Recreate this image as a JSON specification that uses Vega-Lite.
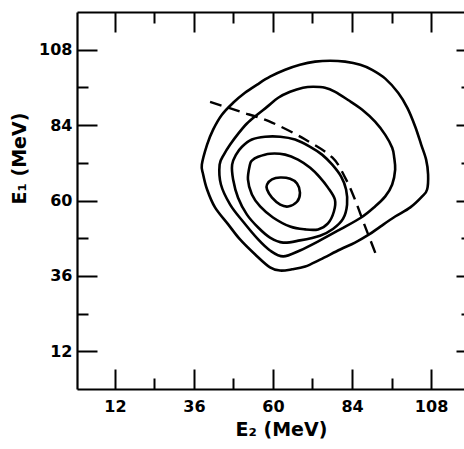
{
  "$schema": "https://vega.github.io/schema/vega-lite/v6.json",
  "width": 387,
  "height": 377,
  "autosize": {"type": "none"},
  "padding": {"left": 77, "top": 12, "right": 0, "bottom": 60},
  "background": "white",
  "config": {
    "view": {"stroke": null},
    "axis": {
      "grid": false,
      "domainColor": "black",
      "domainWidth": 2.2,
      "tickColor": "black",
      "tickWidth": 2,
      "labelFont": "DejaVu Sans",
      "labelFontSize": 16,
      "labelFontWeight": "bold",
      "labelColor": "black",
      "labelFlush": false,
      "labelOverlap": false,
      "titleFont": "DejaVu Sans",
      "titleFontSize": 19,
      "titleFontWeight": "bold",
      "titleColor": "black"
    }
  },
  "datasets": {
    "contours": [
      {"c": 1, "i": 1, "e2": 38.4, "e1": 71.4},
      {"c": 1, "i": 2, "e2": 40.0, "e1": 77.8},
      {"c": 1, "i": 3, "e2": 41.8, "e1": 82.5},
      {"c": 1, "i": 4, "e2": 44.5, "e1": 87.3},
      {"c": 1, "i": 5, "e2": 47.9, "e1": 91.1},
      {"c": 1, "i": 6, "e2": 51.5, "e1": 94.3},
      {"c": 1, "i": 7, "e2": 55.2, "e1": 96.9},
      {"c": 1, "i": 8, "e2": 59.1, "e1": 99.4},
      {"c": 1, "i": 9, "e2": 63.7, "e1": 101.6},
      {"c": 1, "i": 10, "e2": 68.2, "e1": 103.2},
      {"c": 1, "i": 11, "e2": 72.8, "e1": 104.2},
      {"c": 1, "i": 12, "e2": 77.4, "e1": 104.5},
      {"c": 1, "i": 13, "e2": 81.9, "e1": 104.2},
      {"c": 1, "i": 14, "e2": 86.5, "e1": 103.2},
      {"c": 1, "i": 15, "e2": 90.1, "e1": 101.6},
      {"c": 1, "i": 16, "e2": 94.1, "e1": 98.8},
      {"c": 1, "i": 17, "e2": 98.0, "e1": 94.3},
      {"c": 1, "i": 18, "e2": 100.8, "e1": 89.5},
      {"c": 1, "i": 19, "e2": 103.2, "e1": 83.5},
      {"c": 1, "i": 20, "e2": 105.0, "e1": 77.8},
      {"c": 1, "i": 21, "e2": 106.5, "e1": 73.0},
      {"c": 1, "i": 22, "e2": 107.1, "e1": 68.3},
      {"c": 1, "i": 23, "e2": 106.8, "e1": 63.5},
      {"c": 1, "i": 24, "e2": 105.3, "e1": 61.3},
      {"c": 1, "i": 25, "e2": 101.7, "e1": 57.8},
      {"c": 1, "i": 26, "e2": 97.1, "e1": 54.9},
      {"c": 1, "i": 27, "e2": 92.6, "e1": 51.7},
      {"c": 1, "i": 28, "e2": 89.2, "e1": 49.2},
      {"c": 1, "i": 29, "e2": 84.9, "e1": 46.6},
      {"c": 1, "i": 30, "e2": 80.4, "e1": 44.4},
      {"c": 1, "i": 31, "e2": 74.3, "e1": 41.2},
      {"c": 1, "i": 32, "e2": 69.8, "e1": 39.0},
      {"c": 1, "i": 33, "e2": 65.8, "e1": 38.1},
      {"c": 1, "i": 34, "e2": 62.2, "e1": 37.7},
      {"c": 1, "i": 35, "e2": 59.1, "e1": 38.7},
      {"c": 1, "i": 36, "e2": 54.6, "e1": 42.8},
      {"c": 1, "i": 37, "e2": 50.0, "e1": 47.6},
      {"c": 1, "i": 38, "e2": 46.4, "e1": 52.4},
      {"c": 1, "i": 39, "e2": 42.4, "e1": 57.8},
      {"c": 1, "i": 40, "e2": 40.0, "e1": 63.5},
      {"c": 1, "i": 41, "e2": 38.8, "e1": 68.3},
      {"c": 2, "i": 1, "e2": 43.8, "e1": 71.4},
      {"c": 2, "i": 2, "e2": 44.2, "e1": 65.1},
      {"c": 2, "i": 3, "e2": 47.0, "e1": 58.7},
      {"c": 2, "i": 4, "e2": 50.9, "e1": 53.3},
      {"c": 2, "i": 5, "e2": 55.5, "e1": 47.6},
      {"c": 2, "i": 6, "e2": 59.1, "e1": 44.1},
      {"c": 2, "i": 7, "e2": 63.1, "e1": 42.2},
      {"c": 2, "i": 8, "e2": 68.2, "e1": 44.1},
      {"c": 2, "i": 9, "e2": 74.3, "e1": 47.3},
      {"c": 2, "i": 10, "e2": 80.4, "e1": 50.8},
      {"c": 2, "i": 11, "e2": 86.8, "e1": 54.6},
      {"c": 2, "i": 12, "e2": 91.0, "e1": 58.1},
      {"c": 2, "i": 13, "e2": 94.1, "e1": 61.3},
      {"c": 2, "i": 14, "e2": 96.2, "e1": 65.1},
      {"c": 2, "i": 15, "e2": 97.1, "e1": 69.8},
      {"c": 2, "i": 16, "e2": 96.8, "e1": 73.7},
      {"c": 2, "i": 17, "e2": 96.2, "e1": 76.8},
      {"c": 2, "i": 18, "e2": 94.1, "e1": 80.9},
      {"c": 2, "i": 19, "e2": 91.0, "e1": 85.1},
      {"c": 2, "i": 20, "e2": 87.1, "e1": 88.9},
      {"c": 2, "i": 21, "e2": 82.8, "e1": 92.0},
      {"c": 2, "i": 22, "e2": 78.9, "e1": 94.6},
      {"c": 2, "i": 23, "e2": 75.8, "e1": 95.9},
      {"c": 2, "i": 24, "e2": 72.2, "e1": 96.2},
      {"c": 2, "i": 25, "e2": 69.1, "e1": 95.9},
      {"c": 2, "i": 26, "e2": 65.2, "e1": 94.6},
      {"c": 2, "i": 27, "e2": 61.6, "e1": 92.7},
      {"c": 2, "i": 28, "e2": 58.2, "e1": 89.8},
      {"c": 2, "i": 29, "e2": 55.2, "e1": 87.3},
      {"c": 2, "i": 30, "e2": 52.1, "e1": 84.5},
      {"c": 2, "i": 31, "e2": 49.4, "e1": 81.2},
      {"c": 2, "i": 32, "e2": 47.0, "e1": 77.8},
      {"c": 2, "i": 33, "e2": 45.1, "e1": 74.6},
      {"c": 3, "i": 1, "e2": 47.6, "e1": 71.4},
      {"c": 3, "i": 2, "e2": 47.9, "e1": 66.7},
      {"c": 3, "i": 3, "e2": 49.4, "e1": 60.9},
      {"c": 3, "i": 4, "e2": 52.1, "e1": 55.5},
      {"c": 3, "i": 5, "e2": 55.5, "e1": 51.4},
      {"c": 3, "i": 6, "e2": 59.1, "e1": 48.2},
      {"c": 3, "i": 7, "e2": 63.1, "e1": 46.6},
      {"c": 3, "i": 8, "e2": 68.2, "e1": 47.3},
      {"c": 3, "i": 9, "e2": 74.3, "e1": 48.8},
      {"c": 3, "i": 10, "e2": 78.3, "e1": 51.0},
      {"c": 3, "i": 11, "e2": 81.3, "e1": 54.2},
      {"c": 3, "i": 12, "e2": 82.5, "e1": 58.7},
      {"c": 3, "i": 13, "e2": 82.2, "e1": 63.5},
      {"c": 3, "i": 14, "e2": 80.7, "e1": 67.6},
      {"c": 3, "i": 15, "e2": 78.0, "e1": 71.4},
      {"c": 3, "i": 16, "e2": 74.9, "e1": 74.6},
      {"c": 3, "i": 17, "e2": 71.3, "e1": 77.1},
      {"c": 3, "i": 18, "e2": 66.7, "e1": 79.4},
      {"c": 3, "i": 19, "e2": 62.2, "e1": 80.3},
      {"c": 3, "i": 20, "e2": 57.6, "e1": 80.3},
      {"c": 3, "i": 21, "e2": 53.6, "e1": 79.4},
      {"c": 3, "i": 22, "e2": 50.6, "e1": 77.1},
      {"c": 3, "i": 23, "e2": 48.8, "e1": 74.6},
      {"c": 4, "i": 1, "e2": 53.0, "e1": 71.4},
      {"c": 4, "i": 2, "e2": 52.4, "e1": 66.7},
      {"c": 4, "i": 3, "e2": 53.6, "e1": 61.9},
      {"c": 4, "i": 4, "e2": 56.1, "e1": 58.1},
      {"c": 4, "i": 5, "e2": 60.0, "e1": 54.6},
      {"c": 4, "i": 6, "e2": 65.2, "e1": 51.7},
      {"c": 4, "i": 7, "e2": 69.8, "e1": 50.8},
      {"c": 4, "i": 8, "e2": 73.7, "e1": 50.8},
      {"c": 4, "i": 9, "e2": 76.7, "e1": 52.7},
      {"c": 4, "i": 10, "e2": 78.5, "e1": 56.5},
      {"c": 4, "i": 11, "e2": 78.8, "e1": 60.3},
      {"c": 4, "i": 12, "e2": 76.7, "e1": 64.1},
      {"c": 4, "i": 13, "e2": 74.3, "e1": 67.3},
      {"c": 4, "i": 14, "e2": 71.3, "e1": 70.4},
      {"c": 4, "i": 15, "e2": 67.6, "e1": 73.0},
      {"c": 4, "i": 16, "e2": 63.7, "e1": 74.6},
      {"c": 4, "i": 17, "e2": 59.1, "e1": 74.9},
      {"c": 4, "i": 18, "e2": 55.5, "e1": 73.9},
      {"c": 4, "i": 19, "e2": 53.6, "e1": 72.7},
      {"c": 5, "i": 1, "e2": 58.2, "e1": 65.1},
      {"c": 5, "i": 2, "e2": 59.7, "e1": 66.7},
      {"c": 5, "i": 3, "e2": 62.2, "e1": 67.3},
      {"c": 5, "i": 4, "e2": 65.2, "e1": 66.9},
      {"c": 5, "i": 5, "e2": 67.3, "e1": 65.4},
      {"c": 5, "i": 6, "e2": 68.2, "e1": 62.5},
      {"c": 5, "i": 7, "e2": 67.3, "e1": 59.6},
      {"c": 5, "i": 8, "e2": 64.6, "e1": 58.1},
      {"c": 5, "i": 9, "e2": 62.2, "e1": 58.7},
      {"c": 5, "i": 10, "e2": 59.7, "e1": 60.9},
      {"c": 5, "i": 11, "e2": 58.2, "e1": 63.5}
    ],
    "dash": [
      {"i": 1, "e2": 40.9, "e1": 91.4},
      {"i": 2, "e2": 50.0, "e1": 88.3},
      {"i": 3, "e2": 59.7, "e1": 84.8},
      {"i": 4, "e2": 69.8, "e1": 79.4},
      {"i": 5, "e2": 78.0, "e1": 73.7},
      {"i": 6, "e2": 81.9, "e1": 67.3},
      {"i": 7, "e2": 84.9, "e1": 60.3},
      {"i": 8, "e2": 87.4, "e1": 53.3},
      {"i": 9, "e2": 89.5, "e1": 47.6},
      {"i": 10, "e2": 91.6, "e1": 41.9}
    ]
  },
  "layer": [
    {
      "data": {"name": "contours"},
      "mark": {"type": "line", "interpolate": "cardinal-closed", "strokeWidth": 2.6, "color": "black"},
      "encoding": {
        "x": {
          "field": "e2", "type": "quantitative",
          "scale": {"domain": [0.5, 118], "nice": false, "zero": false},
          "axis": {
            "orient": "bottom",
            "values": [12, 36, 60, 84, 108],
            "tickSize": -20,
            "labelPadding": 29,
            "labelBaseline": "top",
            "title": "E₂ (MeV)",
            "titleX": 204,
            "titleY": 46,
            "titleAlign": "center",
            "titleBaseline": "alphabetic"
          }
        },
        "y": {
          "field": "e1", "type": "quantitative",
          "scale": {"domain": [0, 120], "nice": false, "zero": false},
          "axis": {
            "orient": "left",
            "values": [12, 36, 60, 84, 108],
            "tickSize": -20,
            "labelPadding": 25,
            "title": "E₁ (MeV)",
            "titleAngle": 270,
            "titleX": -52,
            "titleY": 146,
            "titleAlign": "center",
            "titleBaseline": "alphabetic"
          }
        },
        "detail": {"field": "c", "type": "nominal"},
        "order": {"field": "i", "type": "quantitative"}
      }
    },
    {
      "data": {"name": "dash"},
      "mark": {"type": "line", "interpolate": "cardinal", "strokeWidth": 2.4, "strokeDash": [12, 7], "color": "black"},
      "encoding": {
        "x": {
          "field": "e2", "type": "quantitative",
          "scale": {"domain": [0.5, 118], "nice": false, "zero": false},
          "axis": {
            "orient": "top",
            "values": [12, 36, 60, 84, 108],
            "tickSize": -20,
            "labels": false,
            "title": null
          }
        },
        "y": {
          "field": "e1", "type": "quantitative",
          "scale": {"domain": [0, 120], "nice": false, "zero": false},
          "axis": {
            "orient": "right",
            "values": [12, 36, 60, 84, 108],
            "tickSize": -8,
            "labels": false,
            "domain": false,
            "title": null
          }
        },
        "order": {"field": "i", "type": "quantitative"}
      }
    },
    {
      "data": {"name": "dash"},
      "mark": {"type": "line", "strokeOpacity": 0, "color": "black"},
      "encoding": {
        "x": {
          "field": "e2", "type": "quantitative",
          "scale": {"domain": [0.5, 118], "nice": false, "zero": false},
          "axis": {
            "orient": "bottom",
            "values": [24, 48, 72, 96],
            "tickSize": -11,
            "labels": false,
            "domain": false,
            "title": null
          }
        },
        "y": {
          "field": "e1", "type": "quantitative",
          "scale": {"domain": [0, 120], "nice": false, "zero": false},
          "axis": {
            "orient": "left",
            "values": [24, 48, 72, 96],
            "tickSize": -11,
            "labels": false,
            "domain": false,
            "title": null
          }
        },
        "order": {"field": "i", "type": "quantitative"}
      }
    },
    {
      "data": {"name": "dash"},
      "mark": {"type": "line", "strokeOpacity": 0, "color": "black"},
      "encoding": {
        "x": {
          "field": "e2", "type": "quantitative",
          "scale": {"domain": [0.5, 118], "nice": false, "zero": false},
          "axis": {
            "orient": "top",
            "values": [24, 48, 72, 96],
            "tickSize": -11,
            "labels": false,
            "domain": false,
            "title": null
          }
        },
        "y": {
          "field": "e1", "type": "quantitative",
          "scale": {"domain": [0, 120], "nice": false, "zero": false},
          "axis": {
            "orient": "right",
            "values": [24, 48, 72, 96],
            "tickSize": -3,
            "labels": false,
            "domain": false,
            "title": null
          }
        },
        "order": {"field": "i", "type": "quantitative"}
      }
    }
  ],
  "resolve": {"axis": {"x": "independent", "y": "independent"}}
}
